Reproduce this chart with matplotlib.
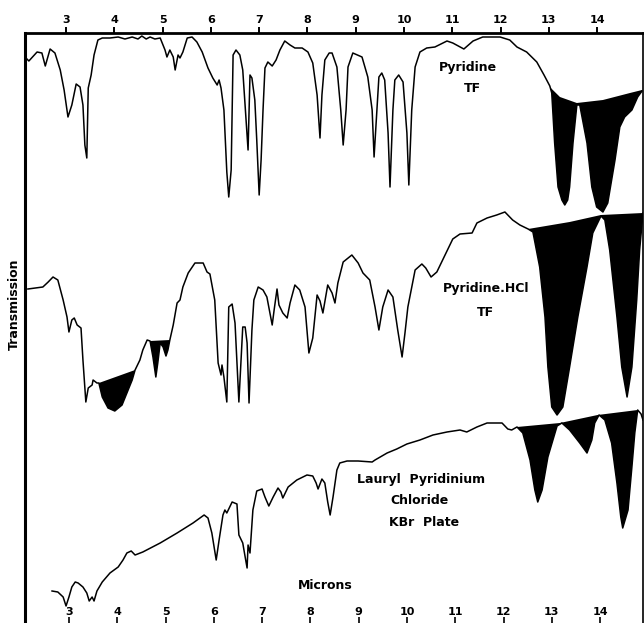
import numpy as np
import matplotlib
matplotlib.use("Agg")
import matplotlib.pyplot as plt
from matplotlib.transforms import offset_copy

# wavelength ticks (microns)
ticks = [3, 4, 5, 6, 7, 8, 9, 10, 11, 12, 13, 14]

# vertical values are chart depth (larger = lower on chart)
# --- Pyridine TF
pyr_x = [2.17, 2.23, 2.40, 2.50, 2.57, 2.67, 2.77, 2.88, 2.96, 3.04, 3.12, 3.21, 3.29, 3.35,
         3.39, 3.43, 3.46, 3.52, 3.58, 3.66, 3.75, 3.91, 4.08, 4.22, 4.37, 4.49, 4.57, 4.66,
         4.74, 4.84, 4.95, 5.05, 5.09, 5.15, 5.22, 5.26, 5.32, 5.36, 5.42, 5.51, 5.61, 5.71,
         5.82, 5.94, 6.04, 6.13, 6.17, 6.21, 6.27, 6.33, 6.37, 6.42, 6.46, 6.52, 6.60, 6.66,
         6.73, 6.77, 6.81, 6.85, 6.91, 6.95, 7.00, 7.04, 7.08, 7.12, 7.18, 7.27, 7.35, 7.43,
         7.53, 7.64, 7.74, 7.89, 8.01, 8.11, 8.20, 8.26, 8.30, 8.36, 8.45, 8.51, 8.61, 8.69,
         8.74, 8.80, 8.84, 8.94, 9.13, 9.25, 9.34, 9.38, 9.44, 9.48, 9.54, 9.60, 9.67, 9.71,
         9.77, 9.81, 9.89, 9.98, 10.06, 10.10, 10.16, 10.23, 10.33, 10.47, 10.64, 10.89, 11.01,
         11.24, 11.43, 11.63, 11.99, 12.19, 12.34, 12.54, 12.75, 12.90, 13.02, 13.06, 13.12,
         13.19, 13.27, 13.33, 13.39, 13.43, 13.50, 13.58, 13.64, 13.79, 13.89, 13.99, 14.12,
         14.22, 14.37, 14.47, 14.57, 14.72, 14.84, 14.93]
pyr_y = [58, 61, 52, 53, 66, 49, 53, 70, 90, 117, 105, 84, 87, 105,
         145, 158, 88, 75, 55, 40, 38, 38, 37, 39, 37, 39, 36, 39,
         37, 39, 38, 50, 57, 50, 57, 70, 55, 58, 52, 38, 37, 42,
         52, 68, 78, 85, 80, 88, 110, 172, 197, 170, 55, 50, 55, 70,
         120, 150, 75, 78, 100, 140, 195, 160, 110, 68, 62, 66, 60, 50,
         41, 45, 48, 48, 52, 63, 95, 138, 95, 60, 53, 53, 67, 110,
         145, 110, 67, 53, 57, 77, 110, 157, 110, 77, 73, 80, 133, 187,
         110, 80, 75, 82, 133, 185, 110, 67, 52, 48, 47, 41, 43,
         49, 41, 37, 37, 40, 47, 52, 62, 75, 86, 93, 143,
         187, 200, 205, 200, 187, 143, 105, 105, 143, 187, 207, 212,
         203, 160, 127, 117, 110, 97, 91]
pyr_base_x = [13.02, 13.23, 13.58, 14.12, 14.68, 14.93]
pyr_base_y = [87, 97, 103, 100, 93, 90]

# --- Pyridine.HCl TF
hcl_x = [2.21, 2.52, 2.63, 2.73, 2.83, 2.94, 3.02, 3.06, 3.12, 3.17, 3.23, 3.31, 3.35, 3.41,
         3.46, 3.54, 3.56, 3.64, 3.68, 3.75, 3.87, 4.01, 4.16, 4.26, 4.37, 4.43, 4.53, 4.59,
         4.68, 4.74, 4.80, 4.86, 4.90, 4.95, 5.01, 5.07, 5.11, 5.15, 5.22, 5.30, 5.36, 5.42,
         5.53, 5.67, 5.84, 5.92, 5.98, 6.08, 6.15, 6.21, 6.23, 6.27, 6.33, 6.37, 6.44, 6.50,
         6.54, 6.58, 6.66, 6.71, 6.75, 6.79, 6.85, 6.89, 6.98, 7.08, 7.16, 7.27, 7.31, 7.37,
         7.41, 7.49, 7.58, 7.64, 7.74, 7.84, 7.95, 8.03, 8.11, 8.20, 8.26, 8.32, 8.42, 8.51,
         8.57, 8.63, 8.74, 8.92, 9.05, 9.15, 9.29, 9.40, 9.48, 9.56, 9.67, 9.77, 9.87, 9.96,
         10.02, 10.08, 10.23, 10.37, 10.45, 10.56, 10.68, 10.85, 11.01, 11.16, 11.41, 11.51,
         11.72, 11.92, 12.09, 12.25, 12.40, 12.57, 12.67, 12.81, 12.92, 12.98, 13.06, 13.17,
         13.29, 13.43, 13.60, 13.79, 13.91, 14.08, 14.16, 14.26, 14.41, 14.51, 14.62, 14.72,
         14.82, 14.88, 14.95]
hcl_y = [289, 287, 282, 277, 280, 300, 317, 332, 320, 318, 325, 328, 360, 402,
         388, 385, 380, 383, 383, 397, 408, 411, 405, 393, 380, 370, 360, 350,
         340, 341, 357, 377, 363, 343, 347, 356, 350, 340, 325, 303, 300, 287,
         273, 263, 263, 272, 274, 300, 363, 375, 365, 377, 402, 307, 304, 323,
         363, 402, 327, 327, 343, 403, 330, 300, 287, 290, 297, 325, 310, 289,
         305, 313, 318, 303, 285, 290, 307, 353, 338, 295, 301, 313, 285, 293,
         303, 283, 262, 255, 263, 273, 280, 307, 330, 307, 290, 297, 330, 357,
         333, 307, 270, 264, 268, 277, 272, 255, 239, 234, 233, 223,
         218, 215, 212, 220, 225, 229, 232, 267, 317, 367, 407, 415,
         407, 367, 317, 267, 233, 216, 220, 250, 317, 367, 397, 367,
         300, 250, 213]
hcl_bases = [([3.68, 4.43], [383, 370]),
             ([4.74, 5.15], [341, 340]),
             ([12.57, 13.43, 14.08, 14.95], [229, 222, 215, 213])]

# --- Lauryl Pyridinium Chloride, KBr plate
lpc_x = [2.71, 2.83, 2.94, 3.00, 3.06, 3.12, 3.19, 3.25, 3.35, 3.43, 3.48, 3.54, 3.58, 3.64,
         3.75, 3.91, 4.08, 4.18, 4.26, 4.35, 4.43, 4.59, 4.95, 5.30, 5.63, 5.86, 5.94, 6.02,
         6.11, 6.17, 6.25, 6.29, 6.33, 6.44, 6.54, 6.58, 6.66, 6.71, 6.75, 6.77, 6.81, 6.87,
         6.95, 7.06, 7.12, 7.20, 7.29, 7.39, 7.45, 7.49, 7.60, 7.78, 7.99, 8.11, 8.18, 8.22,
         8.30, 8.36, 8.42, 8.47, 8.53, 8.61, 8.67, 8.82, 9.05, 9.34, 9.40, 9.65, 9.85, 10.06,
         10.33, 10.60, 10.89, 11.16, 11.30, 11.51, 11.72, 12.03, 12.15, 12.23, 12.34, 12.46,
         12.61, 12.71, 12.77, 12.86, 12.98, 13.17, 13.27, 13.43, 13.64, 13.79, 13.89, 13.95,
         14.04, 14.16, 14.30, 14.41, 14.49, 14.53, 14.64, 14.72, 14.78, 14.84, 14.91, 14.95]
lpc_y = [591, 592, 597, 606, 597, 587, 582, 583, 587, 593, 601, 597, 601, 591,
         582, 573, 567, 560, 553, 551, 555, 552, 543, 533, 523, 515, 518, 533,
         560, 540, 515, 510, 513, 502, 504, 535, 543, 557, 568, 545, 553, 510,
         491, 489, 497, 506, 497, 488, 492, 498, 487, 480, 475, 476, 483, 489,
         479, 483, 502, 515, 497, 470, 463, 461, 461, 462, 460, 453, 449, 444,
         440, 435, 432, 430, 432, 427, 423, 423, 429, 430, 427, 433,
         460, 490, 502, 490, 457, 426, 423, 430, 443, 453, 440, 423,
         415, 420, 443, 483, 517, 528, 510, 467, 433, 410, 414, 420]
lpc_base_x = [12.34, 13.23, 14.01, 14.84]
lpc_base_y = [427, 423, 415, 410]

labels = [("Pyridine", 11.32, 67), ("TF", 11.41, 88),
          ("Pyridine.HCl", 11.70, 288), ("TF", 11.68, 312),
          ("Lauryl  Pyridinium", 10.35, 479), ("Chloride", 10.33, 500),
          ("KBr  Plate", 10.41, 522), ("Microns", 8.36, 585)]

fig = plt.figure(figsize=(6.44, 6.23), dpi=100)
ax = fig.add_axes([25 / 644, 0, 618 / 644, 590 / 623])
ax.set_xlim(2.15, 14.95)
ax.set_ylim(623, 33)


def band(x, y, bx, by):
    x = np.asarray(x); y = np.asarray(y)
    m = (x >= bx[0]) & (x <= bx[-1])
    ax.fill(np.concatenate([x[m], bx[::-1]]), np.concatenate([y[m], by[::-1]]),
            color="black", lw=0, zorder=2)


band(pyr_x, pyr_y, pyr_base_x, pyr_base_y)
for bx, by in hcl_bases:
    band(hcl_x, hcl_y, bx, by)
band(lpc_x, lpc_y, lpc_base_x, lpc_base_y)

for xs, ys in [(pyr_x, pyr_y), (hcl_x, hcl_y), (lpc_x, lpc_y)]:
    ax.plot(xs, ys, color="black", lw=1.1, zorder=3, solid_joinstyle="round")

# frame
ax.spines["bottom"].set_visible(False)
ax.spines["top"].set_linewidth(2.0)
ax.spines["left"].set_linewidth(2.2)
ax.spines["right"].set_linewidth(1.2)
ax.set_yticks([])
ax.xaxis.tick_top()
ax.set_xticks(ticks)
ax.set_xticklabels([str(t) for t in ticks], fontsize=8, fontweight="bold")
ax.tick_params(axis="x", direction="out", length=4, width=1.4, pad=1.5)

# bottom scale, drawn inside the frame
off = offset_copy(ax.transData, fig=fig, x=3, y=0, units="dots")
for t in ticks:
    ax.text(t, 612, str(t), transform=off, ha="center", va="center",
            fontsize=8, fontweight="bold")
ax.vlines(ticks, 617, 624, transform=off, color="black", lw=1.2, clip_on=False)

for txt, x, y in labels:
    ax.text(x, y, txt, ha="center", va="center", fontsize=9, fontweight="bold")

fig.text(14 / 644, 1 - 304 / 623, "Transmission", rotation=90, ha="center",
         va="center", fontsize=9, fontweight="bold")

fig.savefig("out.png", dpi=100, facecolor="white")
